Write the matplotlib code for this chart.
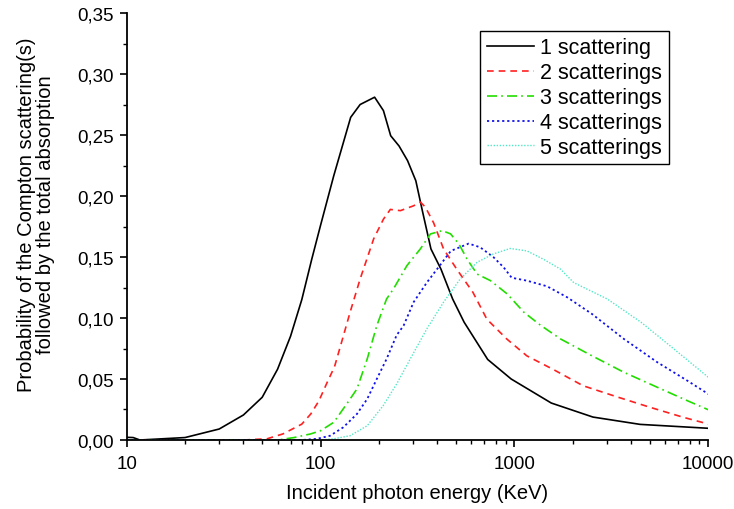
import matplotlib
matplotlib.use('Agg')
import matplotlib.pyplot as plt
from matplotlib.ticker import FuncFormatter, MultipleLocator, LogLocator, NullFormatter

plt.rcParams['font.family'] = ['Liberation Sans', 'DejaVu Sans']

# energies (KeV) and probabilities
e1 = [10, 10.8, 11.7, 20, 30, 40, 50, 60, 70, 80, 90, 100, 117, 143, 160, 190,
      211, 230, 254, 281, 310, 336, 371, 418, 480, 550, 728, 962, 1549, 2540, 4450, 10000]
p1 = [0.0022, 0.002, 0.0, 0.002, 0.009, 0.0205, 0.035, 0.058, 0.085, 0.115, 0.148, 0.176,
      0.2167, 0.2645, 0.275, 0.281, 0.270, 0.2494, 0.241, 0.229, 0.2125, 0.187, 0.1566,
      0.140, 0.1156, 0.0966, 0.066, 0.050, 0.0303, 0.0188, 0.0128, 0.0096]

e2 = [10, 40, 53, 64, 80, 89, 98, 108, 118, 129, 142, 160, 188, 211, 229, 258, 302, 327,
      347, 383, 431, 504, 611, 721, 913, 1158, 1587, 2257, 3360, 5006, 7430, 10000]
p2 = [0.0, 0.0, 0.001, 0.005, 0.013, 0.0213, 0.032, 0.047, 0.060, 0.0814, 0.1047, 0.132,
      0.165, 0.181, 0.189, 0.188, 0.192, 0.195, 0.191, 0.178, 0.1566, 0.140, 0.121, 0.099,
      0.0828, 0.069, 0.0578, 0.0445, 0.0355, 0.0268, 0.0186, 0.0131]

e3 = [10, 60, 73, 89, 100, 117, 137, 154, 174, 195, 219, 238, 279, 327, 369, 424, 468,
      517, 571, 642, 753, 918, 1119, 1365, 1730, 2512, 3670, 5460, 7800, 10000]
p3 = [0.0, 0.0, 0.002, 0.005, 0.0076, 0.0145, 0.030, 0.0418, 0.0664, 0.0937, 0.1156,
      0.124, 0.143, 0.1566, 0.1689, 0.1716, 0.169, 0.1607, 0.148, 0.136, 0.1306, 0.1197,
      0.1047, 0.094, 0.0828, 0.069, 0.0555, 0.0432, 0.0322, 0.0248]

e4 = [10, 80, 96, 112, 131, 154, 174, 195, 219, 247, 268, 302, 353, 412, 470, 581, 665,
      778, 880, 968, 1160, 1473, 1870, 2512, 3670, 5460, 7800, 10000]
p4 = [0.0, 0.0, 0.001, 0.0035, 0.0104, 0.0213, 0.0336, 0.050, 0.0664, 0.0860, 0.0937,
      0.113, 0.129, 0.143, 0.155, 0.161, 0.158, 0.150, 0.1415, 0.133, 0.1306, 0.126,
      0.117, 0.1033, 0.0828, 0.0637, 0.0486, 0.0377]

e5 = [10, 100, 117, 142, 174, 210, 247, 296, 353, 431, 525, 642, 778, 951, 1160, 1418,
      1730, 2023, 3010, 4500, 6650, 10000]
p5 = [0.0, 0.0, 0.001, 0.0035, 0.0117, 0.028, 0.046, 0.069, 0.091, 0.113, 0.132, 0.1457,
      0.1525, 0.157, 0.155, 0.148, 0.140, 0.129, 0.1156, 0.0965, 0.0746, 0.0514]

labels = ['1 scattering', '2 scatterings', '3 scatterings', '4 scatterings', '5 scatterings']


def main():
    fig = plt.figure(figsize=(7.34, 5.10), dpi=100)
    ax = fig.add_axes([0.1726, 0.1353, 0.7924, 0.8372])

    ax.plot(e1, p1, color='black', lw=1.2, ls='-', label=labels[0])
    ax.plot(e2, p2, color='#ff2020', lw=1.2, ls=(0, (4, 3)), label=labels[1])
    ax.plot(e3, p3, color='#22dd00', lw=1.2, ls=(0, (6, 2.5, 1, 2.5)), label=labels[2])
    ax.plot(e4, p4, color='#1010ee', lw=1.3, ls=(0, (1.2, 1.6)), label=labels[3])
    ax.plot(e5, p5, color='#50e8c8', lw=1.0, ls=(0, (1, 1.2)), label=labels[4])

    ax.set_xscale('log')
    ax.set_xlim(10, 10000)
    ax.set_ylim(0, 0.35)
    ax.xaxis.set_major_locator(LogLocator(base=10, numticks=10))
    ax.xaxis.set_minor_locator(LogLocator(base=10, subs=range(2, 10), numticks=20))
    ax.xaxis.set_minor_formatter(NullFormatter())
    ax.xaxis.set_major_formatter(FuncFormatter(lambda v, pos: f'{v:.0f}'))
    ax.yaxis.set_major_locator(MultipleLocator(0.05))
    ax.yaxis.set_minor_locator(MultipleLocator(0.025))
    ax.yaxis.set_major_formatter(FuncFormatter(lambda v, pos: f'{v:.2f}'.replace('.', ',')))

    for s in ['top', 'right']:
        ax.spines[s].set_visible(False)
    for s in ['left', 'bottom']:
        ax.spines[s].set_linewidth(1.3)

    ax.tick_params(which='major', direction='out', length=5, width=1.2, labelsize=13.5, pad=4)
    ax.tick_params(which='minor', direction='out', length=3, width=1.0)
    ax.tick_params(axis='x', which='major', pad=6)

    ax.set_xlabel('Incident photon energy (KeV)', fontsize=14.5, labelpad=8)
    ax.set_ylabel('Probability of the Compton scattering(s)\nfollowed by the total absorption',
                  fontsize=14.5, linespacing=1.0)
    ax.yaxis.set_label_coords(-0.123, 0.53)

    leg = ax.legend(loc='upper right', bbox_to_anchor=(0.932, 0.958), fontsize=15.5,
                    fancybox=False, edgecolor='black', framealpha=1, handlelength=2.2,
                    handletextpad=0.3, borderpad=0.3, labelspacing=0.18,
                    borderaxespad=0)
    leg.get_frame().set_linewidth(1.0)

    plt.savefig('out.png', dpi=100)


if __name__ == '__main__':
    main()
